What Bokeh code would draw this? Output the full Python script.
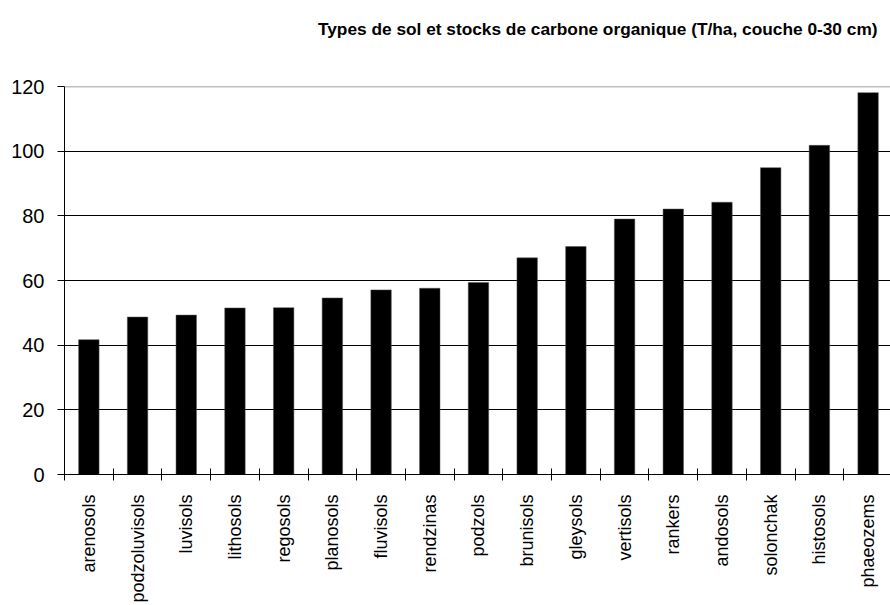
from bokeh.plotting import figure
from bokeh.models import Range1d, FixedTicker, Span, Title
from bokeh.embed import file_html
from bokeh.resources import INLINE

TITLE = "Types de sol et stocks de carbone organique (T/ha, couche 0-30 cm)"
categories = ["arenosols", "podzoluvisols", "luvisols", "lithosols", "regosols",
              "planosols", "fluvisols", "rendzinas", "podzols", "brunisols",
              "gleysols", "vertisols", "rankers", "andosols", "solonchak",
              "histosols", "phaeozems"]
values = [41.7, 48.7, 49.3, 51.5, 51.6, 54.6, 57.1, 57.6, 59.4, 67.0,
          70.5, 79.0, 82.1, 84.2, 94.9, 101.8, 118.1]
y_ticks = [0, 20, 40, 60, 80, 100, 120]

FONT = "Liberation Sans"

n = len(categories)
xs = [i + 0.5 for i in range(n)]

p = figure(width=890, height=605, output_backend="svg", toolbar_location=None,
           title=None,
           x_range=Range1d(0, 16.96), y_range=Range1d(0, 120),
           min_border_left=64, min_border_right=0,
           min_border_top=86, min_border_bottom=129)
p.outline_line_color = None

# spacer slot between frame and title, then the title above it
p.add_layout(Title(text=" ", text_font_size="1px", standoff=45), "above")
p.add_layout(Title(text=TITLE, align="right", text_font=FONT, text_font_size="17.3px",
                   text_font_style="bold", text_color="black", offset=13, standoff=0),
             "above")

p.vbar(x=xs, top=values, bottom=0, width=0.42, fill_color="black",
       line_color="#555555", line_width=0.5)

# x axis: labels at centers, tick marks at boundaries (minor ticks)
xa = p.xaxis[0]
xa.ticker = FixedTicker(ticks=xs, minor_ticks=list(range(n + 1)))
xa.major_label_overrides = {x: c for x, c in zip(xs, categories)}
xa.major_label_orientation = 1.5707963
xa.major_tick_line_color = None
xa.major_tick_out = 0
xa.major_tick_in = 0
xa.minor_tick_line_color = "black"
xa.minor_tick_in = 6
xa.minor_tick_out = 6
xa.major_label_standoff = 14
xa.major_label_text_font = FONT
xa.major_label_text_font_size = "18px"
xa.major_label_text_color = "black"
xa.axis_line_color = "black"

ya = p.yaxis[0]
ya.ticker = FixedTicker(ticks=y_ticks)
ya.minor_tick_line_color = None
ya.major_tick_in = 0
ya.major_tick_out = 7
ya.major_tick_line_color = "black"
ya.axis_line_color = "black"
ya.major_label_standoff = 13
ya.major_label_text_font = FONT
ya.major_label_text_font_size = "20px"
ya.major_label_text_color = "black"

p.xgrid.visible = False
p.ygrid.ticker = FixedTicker(ticks=y_ticks[1:-1])
p.ygrid.grid_line_color = "black"
p.ygrid.grid_line_width = 1
p.add_layout(Span(location=y_ticks[-1], dimension="width", line_color="#808080", line_width=1.5))

p.background_fill_color = "white"
p.border_fill_color = "white"

open("out.html", "w").write(file_html(p, INLINE))
